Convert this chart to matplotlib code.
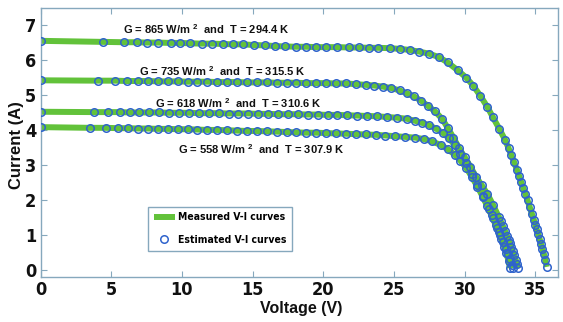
import matplotlib
matplotlib.use("Agg")
import matplotlib.pyplot as plt

# I-V curves (voltage in V, current in A)
v1 = [0, 4.4, 5.9, 6.8, 7.5, 8.3, 9.2, 9.9, 10.6, 11.4, 12.1, 12.9, 13.6, 14.3, 15.1,
      15.9, 16.6, 17.3, 18.1, 18.8, 19.5, 20.2, 21.0, 21.8, 22.5, 23.2, 23.9, 24.7, 25.4,
      26.1, 26.8, 27.5, 28.2, 28.8, 29.5, 30.1, 30.6, 31.1, 31.6, 32.0, 32.45, 32.85, 33.1,
      33.3, 33.5, 33.7, 33.85, 34.0, 34.15, 34.3, 34.45, 34.6, 34.75, 34.9, 35.0, 35.1,
      35.2, 35.3, 35.4, 35.5, 35.6, 35.7, 35.8]
i1 = [6.55, 6.52, 6.51, 6.51, 6.50, 6.50, 6.49, 6.49, 6.48, 6.47, 6.47, 6.46, 6.45, 6.45,
      6.43, 6.42, 6.40, 6.39, 6.38, 6.38, 6.37, 6.37, 6.37, 6.36, 6.36, 6.35, 6.35, 6.34,
      6.32, 6.29, 6.24, 6.18, 6.08, 5.93, 5.71, 5.50, 5.27, 4.98, 4.66, 4.36, 4.03, 3.72,
      3.48, 3.28, 3.07, 2.85, 2.68, 2.50, 2.33, 2.16, 1.98, 1.79, 1.60, 1.41, 1.28, 1.15,
      1.02, 0.88, 0.74, 0.60, 0.45, 0.28, 0.08]

v2 = [0, 4.1, 5.3, 6.1, 6.9, 7.6, 8.3, 9.0, 9.7, 10.4, 11.1, 11.8, 12.5, 13.2, 13.9,
      14.6, 15.3, 16.0, 16.7, 17.4, 18.1, 18.8, 19.5, 20.2, 20.9, 21.6, 22.3, 23.0, 23.6,
      24.2, 24.8, 25.4, 25.9, 26.4, 26.9, 27.4, 27.9, 28.4, 28.8, 29.2, 29.6, 30.0, 30.4,
      30.8, 31.2, 31.6, 32.0, 32.4, 32.55, 32.7, 32.85, 33.0, 33.1, 33.2, 33.3, 33.4,
      33.5, 33.6, 33.7, 33.8]
i2 = [5.42, 5.41, 5.41, 5.40, 5.40, 5.40, 5.39, 5.39, 5.39, 5.38, 5.38, 5.38, 5.37, 5.37,
      5.37, 5.36, 5.36, 5.36, 5.35, 5.35, 5.35, 5.34, 5.34, 5.34, 5.33, 5.33, 5.31, 5.29,
      5.27, 5.24, 5.20, 5.13, 5.05, 4.96, 4.84, 4.69, 4.53, 4.32, 4.06, 3.78, 3.48, 3.22,
      2.95, 2.66, 2.42, 2.17, 1.86, 1.52, 1.39, 1.25, 1.11, 0.96, 0.86, 0.76, 0.65, 0.53,
      0.41, 0.29, 0.17, 0.05]

v3 = [0, 3.8, 4.8, 5.6, 6.3, 7.0, 7.7, 8.4, 9.1, 9.8, 10.5, 11.2, 11.9, 12.6, 13.3,
      14.0, 14.7, 15.4, 16.1, 16.8, 17.5, 18.2, 18.9, 19.6, 20.3, 21.0, 21.7, 22.4, 23.1,
      23.8, 24.5, 25.2, 25.9, 26.5, 27.0, 27.5, 28.0, 28.5, 28.9, 29.3, 29.7, 30.1, 30.5,
      30.9, 31.3, 31.7, 32.0, 32.3, 32.5, 32.7, 32.9, 33.05, 33.2, 33.35, 33.45]
i3 = [4.52, 4.51, 4.51, 4.51, 4.50, 4.50, 4.50, 4.50, 4.49, 4.49, 4.49, 4.48, 4.48, 4.48,
      4.47, 4.47, 4.47, 4.46, 4.46, 4.45, 4.45, 4.45, 4.44, 4.44, 4.43, 4.43, 4.42, 4.41,
      4.40, 4.39, 4.37, 4.35, 4.32, 4.26, 4.20, 4.13, 4.03, 3.90, 3.76, 3.56, 3.32, 3.05,
      2.74, 2.43, 2.10, 1.74, 1.47, 1.18, 0.99, 0.80, 0.60, 0.45, 0.30, 0.14, 0.05]

v4 = [0, 3.5, 4.6, 5.5, 6.2, 6.9, 7.6, 8.3, 9.0, 9.7, 10.4, 11.1, 11.8, 12.5, 13.2,
      13.9, 14.6, 15.3, 16.0, 16.7, 17.4, 18.1, 18.8, 19.5, 20.2, 20.9, 21.6, 22.3, 23.0,
      23.7, 24.4, 25.1, 25.8, 26.5, 27.1, 27.7, 28.3, 28.8, 29.3, 29.7, 30.1, 30.5, 30.9,
      31.3, 31.6, 31.9, 32.2, 32.4, 32.6, 32.8, 32.95, 33.1, 33.2]
i4 = [4.08, 4.06, 4.06, 4.05, 4.05, 4.04, 4.04, 4.03, 4.03, 4.02, 4.02, 4.01, 4.00, 4.00,
      3.99, 3.98, 3.97, 3.97, 3.96, 3.95, 3.94, 3.93, 3.92, 3.92, 3.91, 3.90, 3.89, 3.88,
      3.87, 3.86, 3.84, 3.82, 3.80, 3.78, 3.74, 3.67, 3.57, 3.45, 3.29, 3.12, 2.92, 2.66,
      2.38, 2.07, 1.82, 1.56, 1.28, 1.07, 0.87, 0.66, 0.47, 0.25, 0.05]

curves = [(v1, i1), (v2, i2), (v3, i3), (v4, i4)]
labels = ["G = 865 W/m $^{2}$  and  T = 294.4 K",
          "G = 735 W/m $^{2}$  and  T = 315.5 K",
          "G = 618 W/m $^{2}$  and  T = 310.6 K",
          "G = 558 W/m $^{2}$  and  T = 307.9 K"]
label_pos = [(5.8, 6.88), (7.0, 5.69), (8.1, 4.78), (9.7, 3.46)]
xticks = [0, 5, 10, 15, 20, 25, 30, 35]
yticks = [0, 1, 2, 3, 4, 5, 6, 7]

plt.rcParams['mathtext.fontset'] = 'custom'
plt.rcParams['mathtext.rm'] = 'Liberation Sans:bold'
axcol = '#86a8bd'
green = '#62c23a'
blue = '#2f63cc'
tickfont = dict(family='DejaVu Sans', stretch='condensed', weight='bold')

fig = plt.figure(figsize=(5.63, 3.22), dpi=100)
ax = fig.add_axes([40.5/563, 1-277/322, (558-40.5)/563, (277-8)/322])

for k, (v, c) in enumerate(curves):
    ax.plot(v, c, color=green, lw=4.3, solid_capstyle='butt', zorder=2,
            label="Measured V-I curves" if k == 0 else None)
for k, (v, c) in enumerate(curves):
    ax.plot(v, c, ls='none', marker='o', ms=5.4, mfc='none', mec=blue, mew=1.1,
            zorder=3, label="Estimated V-I curves" if k == 0 else None)

for txt, (x, y) in zip(labels, label_pos):
    ax.text(x, y, txt, fontsize=8, fontweight='bold', family='Liberation Sans',
            ha='left', va='center', color='#111111')

ax.set_xlim(0, 36.6)
ax.set_ylim(-0.21, 7.49)
ax.set_xticks(xticks)
ax.set_yticks(yticks)
ax.tick_params(direction='in', length=4, width=0.8, color=axcol, top=True, right=True,
               pad=3)
for lab in ax.get_xticklabels() + ax.get_yticklabels():
    lab.set_family(tickfont['family'])
    lab.set_stretch(tickfont['stretch'])
    lab.set_fontweight('bold')
    lab.set_fontsize(13)
    lab.set_color('#111111')
for s in ax.spines.values():
    s.set_color(axcol)
    s.set_linewidth(1.0)

fig.text(17/563, 1-145/322, "Current (A)", rotation=90, ha='center', va='center',
         fontsize=12, fontweight='bold', family='Liberation Sans', color='#111111')
fig.text(301/563, 1-309/322, "Voltage (V)", ha='center', va='center',
         fontsize=11.5, fontweight='bold', family='Liberation Sans', color='#111111')

leg = ax.legend(loc='upper left', bbox_to_anchor=(0.2077, 0.2613), borderaxespad=0,
                prop=dict(tickfont, size=7.5),
                handlelength=2.0, handletextpad=0.3, borderpad=0.55, labelspacing=1.2,
                fancybox=False, edgecolor=axcol, framealpha=1)
leg.get_frame().set_linewidth(1.0)

fig.savefig("out.png", dpi=100)
